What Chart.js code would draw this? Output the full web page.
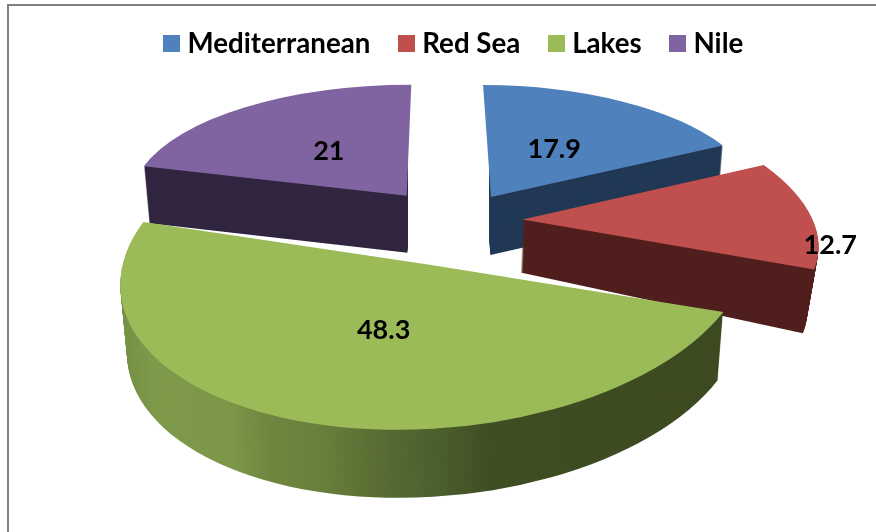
<!DOCTYPE html>
<html>
<head>
<meta charset="utf-8">
<script src="https://cdn.jsdelivr.net/npm/chart.js@4/dist/chart.umd.min.js"></script>
<style>
html,body{margin:0;padding:0;background:#fff;overflow:hidden}
#wrap{position:relative;width:876px;height:532px}
#frame{position:absolute;left:7px;top:4px;right:0;bottom:0;border-left:2px solid #808080;border-top:2px solid #808080;pointer-events:none}
canvas{position:absolute;left:0;top:0}
</style>
</head>
<body>
<div id="wrap"><canvas id="c" width="876" height="532"></canvas><div id="frame"></div></div>
<script>
const categories = ['Mediterranean', 'Red Sea', 'Lakes', 'Nile'];
const values = [17.9, 12.7, 48.3, 21];
const topColors = ['#4f81bd', '#c0504d', '#9bbb59', '#8064a2'];
const sideColors = ['#203754', '#4f1e1c', null, '#30243f'];
const explode = [104, 100, 152, 116];

// Camera for the tilted pie
const camera = {x: 455, y: 221};
const viewRX = [266, 290, 314, 274];
const viewRY = [112, 135, 164, 111];
const viewShear = [0.08, 0.44, -0.08, -0.045];
const viewLean = [0, 0, -0.04, 0];
const viewWarp = [[0, -1.7], [1, 2], [-1.7, 7.7], [1, 0]];
const viewNudge = [0, 0, 6, 0];
const depth = [58, 53, 68, 57];
const depthTilt = [0, 0.037, 0, 0];
const depthPinch = [0.02, 0.04, 0.02, 0.02];
const rimSide = [1, 0, 0, -1];
const drawOrder = [0, 3, 1, 2];
const labelRadius = [0.49, 1.078, 0.42, 0.493];
const labelAngle = [0.45, 0.78, 0.515, 0.535];
const rimStops = [[121,'#6f8b42'],[180,'#7e9a4a'],[260,'#7c9648'],[300,'#6f8640'],[350,'#68803c'],[400,'#5c7035'],[450,'#4f6430'],[530,'#3f4d22'],[726,'#3d4a20']];

function effectiveRadius(arc) {
  const off = (arc.options.offset || 0) / 4;
  const fix = 1 - Math.sin(Math.min(Math.PI, arc.circumference || 0));
  return off * fix + arc.outerRadius;
}
function tipOf(arc, i) {
  const r = effectiveRadius(arc);
  const d = (arc.options.offset || 0) / 4;
  const mid = (arc.startAngle + arc.endAngle) / 2;
  return {
    x: camera.x + viewRX[i] / r * d * Math.cos(mid),
    y: camera.y + viewRY[i] / r * d * Math.sin(mid)
  };
}
function applyView(ctx, arc, i, k) {
  const r = effectiveRadius(arc);
  const tip = tipOf(arc, i);
  if (k > 0) {
    const f = k / 68;
    ctx.translate(camera.x, 0);
    ctx.scale(1 - depthPinch[i] * f, 1);
    ctx.translate(-camera.x, 0);
    const b = depthTilt[i] * k / depth[i];
    ctx.transform(1, b, 0, 1, 0, -b * tip.x);
    ctx.translate(0, k);
  }
  ctx.translate(viewNudge[i], 0);
  ctx.transform(1, viewLean[i], viewShear[i], 1, -viewShear[i] * tip.y, -viewLean[i] * tip.x);
  ctx.translate(camera.x, camera.y);
  ctx.scale(viewRX[i] / r, viewRY[i] / r);
  ctx.translate(-arc.x, -arc.y);
}
function drawArc(ctx, arc, i) {
  const s = arc.startAngle, e = arc.endAngle;
  const d = (arc.options.offset || 0) / 4;
  const mid0 = (s + e) / 2;
  arc.startAngle = s + viewWarp[i][0] * Math.PI / 180;
  arc.endAngle = e + viewWarp[i][1] * Math.PI / 180;
  const mid1 = (arc.startAngle + arc.endAngle) / 2;
  ctx.translate(d * (Math.cos(mid0) - Math.cos(mid1)), d * (Math.sin(mid0) - Math.sin(mid1)));
  arc.draw(ctx);
  arc.startAngle = s;
  arc.endAngle = e;
}
const pie3d = {
  id: 'pie3d',
  beforeDatasetsDraw(chart) {
    const ctx = chart.ctx;
    const arcs = chart.getDatasetMeta(0).data;
    drawOrder.forEach(i => {
      const arc = arcs[i];
      const opts = arc.options;
      const r = effectiveRadius(arc);
      const layer = document.createElement('canvas');
      layer.width = chart.width; layer.height = chart.height;
      const lc = layer.getContext('2d');
      let side = sideColors[i];
      if (!side) {
        const sx = viewRX[i] / r;
        const a = rimStops[0][0], b = rimStops[rimStops.length - 1][0];
        const g = lc.createLinearGradient(arc.x + (a - camera.x) / sx, 0, arc.x + (b - camera.x) / sx, 0);
        rimStops.forEach(s => g.addColorStop((s[0] - a) / (b - a), s[1]));
        side = g;
      }
      if (rimSide[i]) {
        const t = tipOf(arc, i);
        lc.beginPath();
        if (rimSide[i] > 0) lc.rect(t.x - 2, 0, chart.width, chart.height);
        else lc.rect(0, 0, t.x + 1, chart.height);
        lc.clip();
      }
      arc.options = Object.assign({}, opts, {backgroundColor: side, borderWidth: 0});
      lc.globalCompositeOperation = 'destination-over';
      for (let k = 1; k <= depth[i]; k++) {
        lc.save();
        applyView(lc, arc, i, k);
        drawArc(lc, arc, i);
        lc.restore();
      }
      arc.options = opts;
      ctx.drawImage(layer, 0, 0);
      ctx.save();
      applyView(ctx, arc, i, 0);
      drawArc(ctx, arc, i);
      ctx.restore();
    });
    ctx.save();
    ctx.font = 'bold 27px Lato';
    ctx.fillStyle = '#000';
    ctx.textAlign = 'center';
    ctx.textBaseline = 'middle';
    arcs.forEach((arc, i) => {
      const tip = tipOf(arc, i);
      const a = arc.startAngle + (arc.endAngle - arc.startAngle) * labelAngle[i];
      ctx.fillText(String(values[i]),
        tip.x + viewRX[i] * labelRadius[i] * Math.cos(a),
        tip.y + viewRY[i] * labelRadius[i] * Math.sin(a));
    });
    ctx.restore();
    return false;
  }
};
function swatch(color) {
  const c = document.createElement('canvas');
  c.width = 17; c.height = 17;
  const x = c.getContext('2d');
  x.fillStyle = color;
  x.fillRect(0, 0, 17, 17);
  return c;
}
new Chart(document.getElementById('c'), {
  type: 'pie',
  data: {
    labels: categories,
    datasets: [{data: values, backgroundColor: topColors, offset: explode, borderWidth: 0}]
  },
  plugins: [pie3d],
  options: {
    responsive: false,
    animation: false,
    radius: 100,
    rotation: 0,
    layout: {padding: {top: -4, left: 37, right: 0}},
    plugins: {
      tooltip: {enabled: false},
      legend: {
        position: 'top',
        labels: {
          color: '#000',
          font: {family: 'Lato', weight: 'bold', size: 27.7},
          usePointStyle: true,
          pointStyleWidth: 4,
          boxHeight: 17,
          padding: 34,
          generateLabels(chart) {
            return categories.map((t, i) => ({
              text: t, fillStyle: topColors[i], strokeStyle: topColors[i], lineWidth: 0,
              pointStyle: swatch(topColors[i]), index: i, hidden: false
            }));
          }
        }
      }
    }
  }
});
</script>
</body>
</html>
